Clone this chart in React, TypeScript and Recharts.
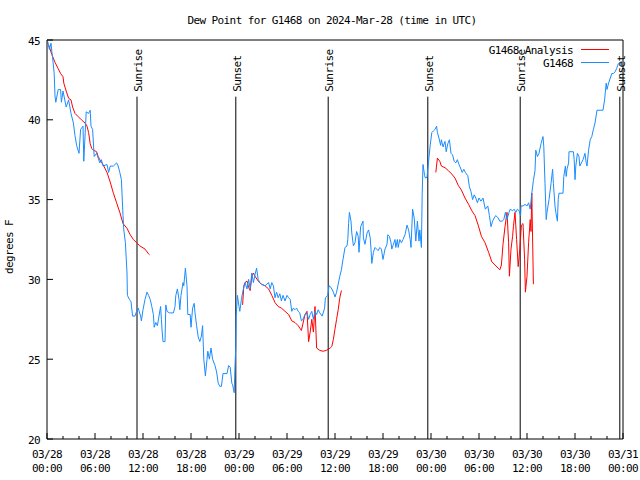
import { LineChart, Line, XAxis, YAxis, ReferenceLine } from 'recharts';

const FONT = '"DejaVu Sans Mono", monospace';
const RED = '#ff0000';
const BLUE = '#1a8cff';

// x axis: hours since 03/28 00:00 UTC
const xMinorHours = [0, 2, 4, 6, 8, 10, 12, 14, 16, 18, 20, 22, 24, 26, 28, 30, 32, 34, 36, 38, 40, 42, 44, 46, 48, 50, 52, 54, 56, 58, 60, 62, 64, 66, 68, 70, 72];
const xTickHours = [0, 6, 12, 18, 24, 30, 36, 42, 48, 54, 60, 66, 72];
const xTickLabels = [
  ['03/28', '00:00'], ['03/28', '06:00'], ['03/28', '12:00'], ['03/28', '18:00'],
  ['03/29', '00:00'], ['03/29', '06:00'], ['03/29', '12:00'], ['03/29', '18:00'],
  ['03/30', '00:00'], ['03/30', '06:00'], ['03/30', '12:00'], ['03/30', '18:00'],
  ['03/31', '00:00'],
];
const yTicks = [20, 25, 30, 35, 40, 45];

const sunHours = [11.25, 23.6, 35.15, 47.6, 59.15, 71.6];
const sunLabels = ['Sunrise', 'Sunset', 'Sunrise', 'Sunset', 'Sunrise', 'Sunset'];
const sunLineTop = 41.45;

// G1468 Analysis (null = gap)
const analysisHours = [
  0.2, 0.6, 1.0, 1.4, 1.7, 2.0, 2.1, 2.4, 2.7, 3.0, 3.2, 3.5, 3.9, 4.3, 4.75, 5.0, 5.2, 5.4, 5.6, 5.8,
  6.2, 6.4, 6.6, 7.0, 7.5, 7.9, 8.3, 8.7, 9.1, 9.5, 10.0, 10.4, 10.8, 11.2, 11.6, 12.25, 12.7, 12.8,
  18,
  24.45, 24.6, 24.75, 25.0, 25.2, 25.4, 25.6, 25.8, 26.0, 26.4, 26.8, 27.25, 27.7, 28.1, 28.5, 28.9,
  29.3, 29.75, 30.2, 30.6, 31.0, 31.4, 31.8, 32.25, 32.5, 32.7, 32.9, 33.1, 33.3, 33.5, 33.7, 34.1,
  34.5, 34.9, 35.4, 35.6, 35.8, 36.0, 36.2, 36.4, 36.6, 36.8,
  42,
  48.6, 48.8, 49.1, 49.3, 49.75, 50.2, 50.6, 51.0, 51.4, 51.8, 52.25, 52.7, 53.1, 53.5, 53.9, 54.3,
  54.75, 55.2, 55.6, 56.0, 56.4, 56.6, 56.8, 57.0, 57.25, 57.5, 57.7, 57.8, 58.0, 58.2, 58.3, 58.5,
  58.7, 58.9, 59.1, 59.3, 59.5, 59.7, 59.8, 60.0, 60.2, 60.4, 60.5, 60.6, 60.8,
];
const analysisValues = [
  44.7, 44.1, 43.6, 43.2, 42.9, 42.7, 42.3, 41.8, 41.35, 41.25, 40.8, 40.4, 40.2, 40.0, 39.8, 39.6, 39.2, 38.5, 38.2, 38.1,
  38.0, 37.7, 37.5, 37.2, 36.7, 36.1, 35.4, 34.8, 34.2, 33.5, 33.2, 32.8, 32.5, 32.3, 32.1, 31.9, 31.6, 31.55,
  null,
  28.4, 29.6, 29.8, 29.9, 29.5, 29.3, 30.2, 30.4, 30.2, 29.9, 29.7, 29.6, 29.4, 29.0, 28.55, 28.3,
  28.2, 28.0, 27.8, 27.4, 27.3, 27.1, 26.8, 27.8, 28.0, 26.1, 26.7, 27.5, 26.7, 28.3, 25.7, 25.55,
  25.5, 25.55, 25.7, 25.8, 26.25, 26.9, 27.5, 28.1, 28.85, 29.3,
  null,
  36.7, 37.6, 37.4, 37.1, 37.0, 36.8, 36.6, 36.35, 35.9, 35.6, 35.1, 34.7, 34.3, 34.0, 33.4, 32.7,
  32.3, 31.7, 31.1, 30.9, 30.7, 30.6, 30.9, 32.2, 33.3, 34.2, 32.3, 30.2, 31.9, 32.7, 33.3, 34.2,
  32.5, 30.8, 31.9, 33.4, 33.5, 31.25, 29.2, 30.2, 32.3, 33.75, 33.0, 35.4, 29.7,
];

// G1468 station observations
const stationHours = [
  0.1, 0.3, 0.5, 0.6, 0.7, 0.9, 1.0, 1.1, 1.4, 1.7, 1.8, 2.0, 2.2, 2.4, 2.7, 3.0, 3.3, 3.5, 3.7, 4.0,
  4.2, 4.5, 4.6, 4.9, 5.2, 5.4, 5.5, 5.7, 5.9, 6.2, 6.4, 6.6, 6.8, 7.0, 7.5, 7.7, 7.9, 8.3, 8.7, 8.9,
  9.1, 9.3, 9.5, 9.6, 9.8, 10.0, 10.05, 10.3, 10.5, 10.7, 11.0, 11.2, 11.4, 11.7, 11.8, 12.0, 12.25, 12.5, 12.7, 12.9,
  13.1, 13.3, 13.4, 13.6, 13.8, 14.0, 14.2, 14.3, 14.4, 14.5, 14.75, 14.85, 15.0, 15.3, 15.8, 16.0, 16.1, 16.3, 16.5, 16.6,
  16.75, 17.0, 17.1, 17.3, 17.5, 17.6, 17.9, 18.0, 18.2, 18.4, 18.5, 18.7, 18.9, 19.1, 19.3, 19.45, 19.6, 19.8, 20.0, 20.1,
  20.3, 20.5, 20.7, 21.0, 21.2, 21.4, 21.6, 21.8, 22.0, 22.5, 22.7, 22.9, 23.1, 23.2, 23.4, 23.5, 23.6, 23.65, 23.8, 24.0,
  24.1, 24.3, 24.5, 24.75, 25.0, 25.2, 25.4, 25.6, 25.8, 26.0, 26.2, 26.4, 26.6, 26.8, 27.25, 27.7, 27.9, 28.1, 28.3, 28.5,
  28.7, 28.9, 29.1, 29.3, 29.5, 29.75, 30.0, 30.2, 30.4, 30.6, 30.8, 31.0, 31.2, 31.4, 31.6, 31.8, 32.0, 32.25, 32.5, 32.7,
  32.9, 33.1, 33.3, 33.5, 33.7, 33.9, 34.1, 34.4, 34.7, 34.8, 35.1, 35.25, 35.5, 35.8, 36.0, 36.2, 36.4, 36.6, 36.8, 37.0,
  37.25, 37.5, 37.6, 37.7, 37.8, 38.0, 38.1, 38.3, 38.5, 38.7, 38.9, 39.0, 39.2, 39.5, 39.55, 39.75, 40.0, 40.2, 40.4, 40.5,
  40.6, 40.8, 41.0, 41.2, 41.4, 41.6, 41.8, 42.0, 42.25, 42.5, 42.6, 42.8, 43.0, 43.1, 43.3, 43.5, 43.6, 43.8, 43.9, 44.1,
  44.3, 44.5, 44.75, 45.0, 45.2, 45.4, 45.5, 45.7, 45.9, 46.0, 46.1, 46.3, 46.5, 46.6, 46.8, 46.9, 47.0, 47.2, 47.3, 47.5,
  47.7, 47.9, 48.1, 48.3, 48.5, 48.7, 48.8, 49.0, 49.2, 49.3, 49.5, 49.75, 49.9, 50.1, 50.3, 50.5, 50.7, 50.9, 51.1, 51.3,
  51.5, 51.75, 51.9, 52.1, 52.3, 52.6, 52.8, 53.0, 53.2, 53.4, 53.6, 53.8, 54.0, 54.25, 54.5, 54.7, 54.8, 55.1, 55.3, 55.5,
  55.7, 55.9, 56.1, 56.4, 56.6, 56.9, 57.1, 57.3, 57.5, 57.75, 57.9, 58.2, 58.4, 58.6, 58.8, 59.0, 59.2, 59.25, 59.5, 59.75,
  60.0, 60.2, 60.4, 60.6, 60.8, 61.0, 61.1, 61.3, 61.5, 61.75, 62.0, 62.1, 62.25, 62.4, 62.5, 62.75, 63.0, 63.2, 63.3, 63.5,
  63.6, 63.8, 63.9, 64.0, 64.5, 64.6, 64.8, 64.9, 65.0, 65.2, 65.25, 65.8, 65.9, 66.0, 66.1, 66.3, 66.5, 66.6, 66.8, 67.0,
  67.25, 67.4, 67.5, 67.7, 67.9, 68.1, 68.3, 68.5, 68.75, 69.5, 69.7, 69.9, 70.0, 70.2, 70.6, 70.8, 71.0, 71.2, 71.4, 71.6,
  71.8,
];
const stationValues = [
  44.9, 44.4, 44.8, 44.3, 43.9, 42.9, 41.5, 41.1, 41.9, 41.9, 41.1, 41.8, 41.3, 40.8, 41.25, 40.4, 39.8, 39.0, 38.4, 37.9,
  39.4, 39.6, 37.4, 40.5, 40.4, 40.6, 39.6, 39.4, 37.7, 37.9, 37.6, 37.3, 37.5, 37.1, 37.2, 36.7, 37.1, 37.1, 37.3, 37.1,
  36.7, 36.25, 34.0, 33.1, 32.3, 30.4, 29.0, 28.75, 28.6, 27.7, 27.7, 28.0, 28.2, 27.7, 27.4, 28.1, 28.75, 29.2, 29.0, 28.75,
  28.3, 27.8, 27.0, 27.3, 27.1, 27.7, 28.3, 27.5, 26.7, 26.1, 26.1, 28.4, 28.0, 27.9, 27.9, 28.3, 29.0, 29.4, 28.75, 28.1,
  29.0, 29.8, 29.6, 30.7, 29.6, 27.8, 27.8, 27.0, 28.2, 28.5, 27.9, 27.1, 26.4, 26.1, 26.45, 27.1, 25.0, 23.95, 25.0, 25.5,
  25.0, 25.7, 25.0, 24.6, 24.2, 23.5, 23.3, 23.3, 24.1, 24.1, 24.6, 24.5, 23.5, 23.4, 22.9, 24.6, 25.8, 27.7, 29.0, 28.3,
  28.0, 28.75, 29.3, 29.8, 29.4, 30.0, 29.4, 30.4, 29.8, 30.3, 30.7, 30.0, 29.8, 29.7, 29.6, 29.8, 29.4, 29.8, 29.6, 28.85,
  29.2, 28.85, 29.1, 28.65, 29.0, 28.65, 29.0, 28.85, 28.75, 28.0, 28.2, 28.1, 28.2, 28.0, 27.9, 27.4, 27.5, 27.8, 27.9, 27.5,
  27.8, 28.0, 27.5, 28.0, 27.8, 28.1, 27.9, 27.7, 28.2, 28.85, 29.0, 29.6, 29.5, 29.2, 28.9, 29.2, 29.7, 30.2, 30.6, 31.25,
  32.0, 32.1, 32.5, 33.5, 34.2, 33.65, 32.9, 32.1, 32.3, 33.0, 32.7, 31.7, 33.3, 33.65, 32.6, 32.2, 32.9, 33.1, 32.6, 31.9,
  31.0, 31.7, 32.0, 31.9, 31.8, 32.0, 31.9, 31.25, 31.9, 32.2, 32.8, 32.7, 32.3, 31.9, 32.2, 32.5, 32.0, 32.5, 32.0, 32.5,
  32.3, 32.5, 32.8, 33.4, 33.1, 32.5, 32.0, 34.4, 33.85, 33.1, 32.4, 33.65, 32.4, 33.1, 32.0, 35.4, 37.2, 36.5, 36.35, 36.4,
  37.4, 38.4, 39.2, 39.3, 39.4, 39.6, 39.2, 38.85, 38.4, 38.75, 38.3, 38.65, 38.0, 38.5, 38.75, 37.9, 37.8, 37.4, 37.3, 37.5,
  37.2, 36.9, 36.7, 36.9, 36.7, 36.5, 35.8, 35.5, 35.0, 35.3, 35.1, 34.8, 35.1, 34.9, 35.1, 34.6, 34.4, 34.6, 34.0, 33.3,
  33.65, 33.85, 34.0, 33.85, 33.65, 33.65, 33.75, 34.2, 33.75, 34.2, 34.4, 34.3, 34.4, 34.2, 34.4, 34.3, 34.0, 34.6, 34.6, 34.7,
  34.6, 34.8, 34.4, 35.4, 36.2, 36.8, 38.1, 37.7, 37.9, 38.5, 38.95, 38.3, 36.0, 33.75, 34.2, 35.0, 36.0, 36.9, 36.0, 34.6,
  34.2, 33.65, 35.0, 35.4, 35.4, 36.45, 37.1, 36.45, 36.9, 37.3, 38.0, 38.0, 37.5, 36.25, 37.1, 37.9, 37.7, 37.1, 37.3, 37.5,
  37.9, 37.3, 37.1, 38.1, 38.75, 38.95, 39.4, 39.8, 40.6, 40.6, 41.25, 42.3, 41.9, 42.3, 42.9, 42.9, 43.0, 43.2, 43.5, 43.6,
  43.4,
];

const analysisData = analysisHours.map((h, i) => ({ h, v: analysisValues[i] }));
const stationData = stationHours.map((h, i) => ({ h, v: stationValues[i] }));

const textStyle = { fontFamily: FONT, fontSize: 11, letterSpacing: -0.6, fill: '#000' } as const;

const BottomTick = (props: any) => {
  const { x, y, payload } = props;
  const idx = xTickHours.indexOf(payload.value);
  const major = idx >= 0;
  return (
    <g>
      <line x1={x} x2={x} y1={y} y2={y - (major ? 6 : 3)} stroke="#000" />
      {major && (
        <text x={x} y={y} textAnchor="middle" {...textStyle}>
          <tspan x={x} dy={19}>{xTickLabels[idx][0]}</tspan>
          <tspan x={x} dy={13.5}>{xTickLabels[idx][1]}</tspan>
        </text>
      )}
    </g>
  );
};

const TopTick = (props: any) => {
  const { x, y, payload } = props;
  const major = xTickHours.includes(payload.value);
  return <line x1={x} x2={x} y1={y} y2={y + (major ? 6 : 3)} stroke="#000" />;
};

const LeftTick = (props: any) => {
  const { x, y, payload } = props;
  return (
    <g>
      <line x1={x} x2={x + 6} y1={y} y2={y} stroke="#000" />
      <text x={x - 7} y={y + 4.5} textAnchor="end" {...textStyle}>{payload.value}</text>
    </g>
  );
};

const RightTick = (props: any) => {
  const { x, y } = props;
  return <line x1={x} x2={x - 6} y1={y} y2={y} stroke="#000" />;
};

const SunLabel = (props: any) => {
  const vb = props.viewBox || {};
  const tx = (vb.x ?? 0) + 5;
  const ty = (vb.y ?? 0) - 5;
  return (
    <text x={tx} y={ty} transform={`rotate(-90, ${tx}, ${ty})`} textAnchor="start" {...textStyle}>
      {props.text}
    </text>
  );
};

export default function App() {
  return (
    <div style={{ position: 'absolute', left: 0, top: 0, width: 640, height: 480, background: '#fff' }}>
      <LineChart width={640} height={480} margin={{ top: 0, right: 0, bottom: 0, left: 0 }}>
        <XAxis
          xAxisId="bottom"
          dataKey="h"
          type="number"
          domain={[0, 72]}
          ticks={xMinorHours}
          interval={0}
          height={41}
          tickSize={0}
          tickMargin={0}
          tickLine={false}
          axisLine={{ stroke: '#000' }}
          tick={<BottomTick />}
        />
        <XAxis
          xAxisId="top"
          orientation="top"
          type="number"
          domain={[0, 72]}
          ticks={xMinorHours}
          interval={0}
          height={40}
          tickSize={0}
          tickMargin={0}
          tickLine={false}
          axisLine={{ stroke: '#000' }}
          tick={<TopTick />}
        />
        <YAxis
          yAxisId="left"
          type="number"
          domain={[20, 45]}
          ticks={yTicks}
          interval={0}
          width={47}
          tickSize={0}
          tickMargin={0}
          tickLine={false}
          axisLine={{ stroke: '#000' }}
          tick={<LeftTick />}
        />
        <YAxis
          yAxisId="right"
          orientation="right"
          type="number"
          domain={[20, 45]}
          ticks={yTicks}
          interval={0}
          width={17}
          tickSize={0}
          tickMargin={0}
          tickLine={false}
          axisLine={{ stroke: '#000' }}
          tick={<RightTick />}
        />
        {sunHours.map((h, i) => (
          <ReferenceLine
            key={`sun-${i}`}
            xAxisId="bottom"
            yAxisId="left"
            segment={[{ x: h, y: 20 }, { x: h, y: sunLineTop }]}
            stroke="#000"
            strokeWidth={1}
            label={<SunLabel text={sunLabels[i]} />}
          />
        ))}
        <Line
          data={analysisData}
          xAxisId="bottom"
          yAxisId="left"
          dataKey="v"
          type="linear"
          stroke={RED}
          strokeWidth={1}
          dot={false}
          activeDot={false}
          connectNulls={false}
          isAnimationActive={false}
        />
        <Line
          data={stationData}
          xAxisId="bottom"
          yAxisId="left"
          dataKey="v"
          type="linear"
          stroke={BLUE}
          strokeWidth={1}
          dot={false}
          activeDot={false}
          isAnimationActive={false}
        />
      </LineChart>
      <svg width={640} height={480} style={{ position: 'absolute', left: 0, top: 0, pointerEvents: 'none' }}>
        <text x={332} y={24} textAnchor="middle" {...textStyle}>
          Dew Point for G1468 on 2024-Mar-28 (time in UTC)
        </text>
        <text x={13} y={247} textAnchor="middle" transform="rotate(-90, 13, 247)" {...textStyle}>
          degrees F
        </text>
        <text x={573} y={54} textAnchor="end" {...textStyle}>G1468 Analysis</text>
        <line x1={581} x2={609} y1={49.5} y2={49.5} stroke={RED} />
        <text x={573} y={67} textAnchor="end" {...textStyle}>G1468</text>
        <line x1={581} x2={609} y1={62.5} y2={62.5} stroke={BLUE} />
      </svg>
    </div>
  );
}
